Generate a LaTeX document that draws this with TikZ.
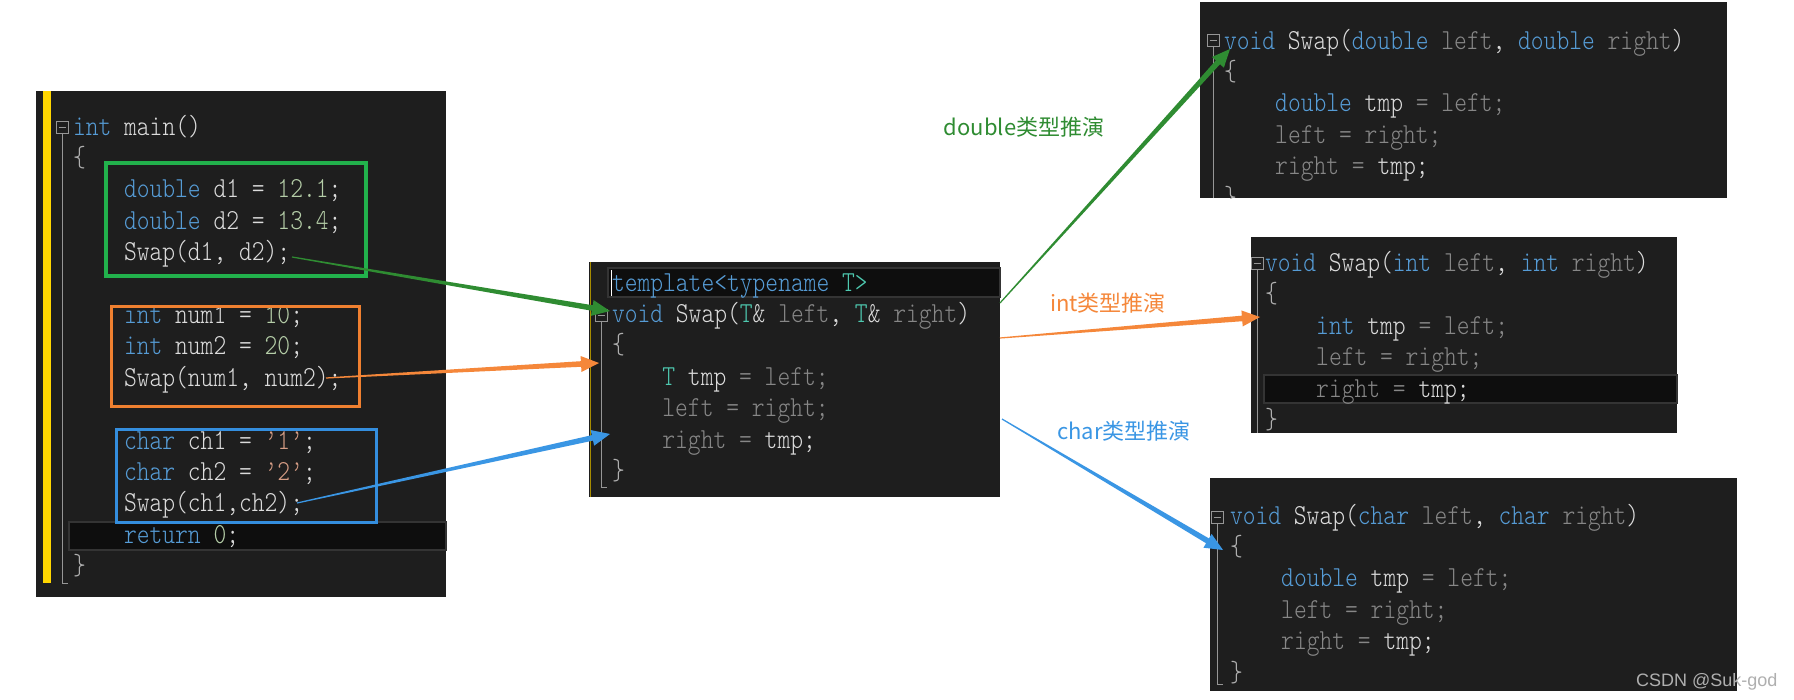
\documentclass[tikz,border=0pt]{standalone}
\usepackage{fontspec}
\usetikzlibrary{calc}
\newfontfamily\cjkfont{Noto Sans CJK SC}
\newfontfamily\wmfontfam{Liberation Sans}
\newfontfamily\codefam{lmmonolt10-regular.otf}[FakeStretch=0.84]
\definecolor{bgc}{RGB}{30,30,30}
\definecolor{kwc}{RGB}{86,156,214}
\definecolor{txc}{RGB}{220,220,220}
\definecolor{prc}{RGB}{135,135,135}
\definecolor{nmc}{RGB}{181,206,168}
\definecolor{stc}{RGB}{214,157,133}
\definecolor{tyc}{RGB}{78,201,176}
\definecolor{brc}{RGB}{175,175,175}
\definecolor{hlc}{RGB}{14,14,14}
\definecolor{hlb}{RGB}{52,52,52}
\definecolor{fdc}{RGB}{150,150,150}
\definecolor{ylc}{RGB}{255,214,0}
\definecolor{gbox}{RGB}{34,177,76}
\definecolor{obox}{RGB}{240,128,48}
\definecolor{bbox}{RGB}{52,142,222}
\definecolor{garr}{RGB}{47,140,50}
\definecolor{oarr}{RGB}{245,135,58}
\definecolor{barr}{RGB}{58,150,228}
\definecolor{wmc}{RGB}{175,175,175}
\newcommand\ckw[1]{\textcolor{kwc}{#1}}
\newcommand\cpr[1]{\textcolor{prc}{#1}}
\newcommand\cnm[1]{\textcolor{nmc}{#1}}
\newcommand\cst[1]{\textcolor{stc}{#1}}
\newcommand\cty[1]{\textcolor{tyc}{#1}}
\newcommand\cbr[1]{\textcolor{brc}{#1}}
\newcommand\foldbox[2]{%
  \draw[fold, fill=bgc] (#1-6,#2-6) rectangle (#1+6,#2+6);
  \draw[fold] (#1-3.5,#2) -- (#1+3.5,#2);}
\newcommand\taper[3]{%
  \coordinate (tb) at ($(#2)!18pt!(#1)$);
  \fill[#3] ($(#1)!0.6pt!90:(#2)$) -- ($(tb)!2.8pt!-90:(#1)$) -- ($(tb)!8pt!-90:(#1)$) -- (#2)
    -- ($(tb)!8pt!90:(#1)$) -- ($(tb)!2.8pt!90:(#1)$) -- ($(#1)!0.6pt!-90:(#2)$) -- cycle;}
\tikzset{
  code/.style={font=\codefam\fontsize{29}{29}\selectfont, text=txc, anchor=base west, inner sep=0pt, outer sep=0pt},
  panel/.style={fill=bgc, draw=none, anchor=north west, inner sep=0pt, outer sep=0pt},
  fold/.style={draw=fdc, line width=1pt},
  hl/.style={draw=hlb, fill=hlc, line width=1.5pt},
  lbl/.style={font=\cjkfont\fontsize{22}{22}\selectfont, inner sep=0pt},
}
\begin{document}
\begin{tikzpicture}[x=1pt, y=-1pt]
\fill[white] (0,0) rectangle (1794,699);
\useasboundingbox (0,0) rectangle (1794,699);

% ---------- panels ----------
\node[panel, minimum width=410pt, minimum height=506pt] (p1) at (36,91) {};
\node[panel, minimum width=411pt, minimum height=235pt] (p2) at (589,262) {};
\node[panel, minimum width=527pt, minimum height=196pt] (pa) at (1200,2) {};
\node[panel, minimum width=426pt, minimum height=196pt] (pb) at (1251,237) {};
\node[panel, minimum width=527pt, minimum height=213pt] (pc) at (1210,478) {};

% ---------- panel 1 : main ----------
\fill[ylc] (43,91) rectangle (51,583);
\draw[hl] (69,522) rectangle (446,550);
\draw[fold] (62,133) -- (62,583) -- (68,583);
\foldbox{62}{127}
\node[code] (m0) at (73,135) {\ckw{int} main()};
\node[code] (m1) at (73,166.4) {\cbr{\{}};
\node[code] (m2) at (124,197.8) {\ckw{double} d1 = \cnm{12.1};};
\node[code] (m3) at (124,229.2) {\ckw{double} d2 = \cnm{13.4};};
\node[code] (m4) at (124,260.6) {Swap(d1, d2);};
\node[code] (m6) at (124,323.4) {\ckw{int} num1 = \cnm{10};};
\node[code] (m7) at (124,354.8) {\ckw{int} num2 = \cnm{20};};
\node[code] (m8) at (124,386.2) {Swap(num1, num2);};
\node[code] (m10) at (124,449) {\ckw{char} ch1 = \cst{’1’};};
\node[code] (m11) at (124,480.4) {\ckw{char} ch2 = \cst{’2’};};
\node[code] (m12) at (124,511.8) {Swap(ch1,ch2);};
\node[code] (m13) at (124,543.2) {\ckw{return} \cnm{0};};
\node[code] (m14) at (73,574.6) {\cbr{\}}};
\draw[gbox, line width=3.5pt] (106,163) rectangle (366,276);
\draw[obox, line width=3pt] (111,306) rectangle (359,406);
\draw[bbox, line width=3pt] (116,429) rectangle (376,522);

% ---------- panel 2 : template ----------
\draw[ylc!65!black, line width=1pt] (590,262) -- (590,497);
\draw[hl] (608,268) rectangle (1000,297);
\draw[white, line width=1pt] (611,270) -- (611,296);
\draw[fold] (601,321.5) -- (601,487) -- (607,487);
\foldbox{601}{315.5}
\node[code] (t0) at (612,291) {\ckw{template<typename} \cty{T>}};
\node[code] (t1) at (612,322.4) {\ckw{void} Swap(\cty{T}\& \cpr{left}, \cty{T}\& \cpr{right})};
\node[code] (t2) at (612,353.8) {\cbr{\{}};
\node[code] (t3) at (662.4,385.2) {\cty{T} tmp \cpr{= left;}};
\node[code] (t4) at (662.4,416.6) {\cpr{left = right;}};
\node[code] (t5) at (662.4,448) {\cpr{right =} tmp;};
\node[code] (t6) at (612,479.4) {\cbr{\}}};

% ---------- panel A : double ----------
\begin{scope}
\clip (1200,2) rectangle (1727,198);
\draw[fold] (1213,46) -- (1213,198);
\foldbox{1213}{40}
\node[code] (a0) at (1224,49) {\ckw{void} Swap(\ckw{double} \cpr{left}, \ckw{double} \cpr{right})};
\node[code] (a1) at (1224,80.4) {\cbr{\{}};
\node[code] (a2) at (1275.2,111.8) {\ckw{double} tmp \cpr{= left;}};
\node[code] (a3) at (1275.2,143.2) {\cpr{left = right;}};
\node[code] (a4) at (1275.2,174.6) {\cpr{right =} tmp;};
\node[code] (a5) at (1224,206) {\cbr{\}}};
\end{scope}

% ---------- panel B : int ----------
\draw[hl] (1264,375) rectangle (1677,403);
\draw[fold] (1257,268.5) -- (1257,433);
\foldbox{1257}{263}
\node[code] (b0) at (1265,271.5) {\ckw{void} Swap(\ckw{int} \cpr{left}, \ckw{int} \cpr{right})};
\node[code] (b1) at (1265,302.9) {\cbr{\{}};
\node[code] (b2) at (1316.2,334.3) {\ckw{int} tmp \cpr{= left;}};
\node[code] (b3) at (1316.2,365.7) {\cpr{left = right;}};
\node[code] (b4) at (1316.2,397.1) {\cpr{right =} tmp;};
\node[code] (b5) at (1265,428.5) {\cbr{\}}};

% ---------- panel C : char ----------
\draw[fold] (1217,523) -- (1217,684) -- (1223,684);
\foldbox{1217}{517}
\node[code] (c0) at (1230,524) {\ckw{void} Swap(\ckw{char} \cpr{left}, \ckw{char} \cpr{right})};
\node[code] (c1) at (1230,555.4) {\cbr{\{}};
\node[code] (c2) at (1281.2,586.8) {\ckw{double} tmp \cpr{= left;}};
\node[code] (c3) at (1281.2,618.2) {\cpr{left = right;}};
\node[code] (c4) at (1281.2,649.6) {\cpr{right =} tmp;};
\node[code] (c5) at (1230,681) {\cbr{\}}};

% ---------- arrows ----------
\coordinate (g1s) at (292,257);  \coordinate (g1e) at (610,311);
\coordinate (o1s) at (326,378);  \coordinate (o1e) at (599,363);
\coordinate (b1s) at (297,503);  \coordinate (b1e) at (610,434);
\coordinate (g2s) at (1000,303); \coordinate (g2e) at (1230,49);
\coordinate (o2s) at (1000,338); \coordinate (o2e) at (1260,317);
\coordinate (b2s) at (1002,419); \coordinate (b2e) at (1223,550);
\taper{g1s}{g1e}{garr}
\taper{o1s}{o1e}{oarr}
\taper{b1s}{b1e}{barr}
\taper{g2s}{g2e}{garr}
\taper{o2s}{o2e}{oarr}
\taper{b2s}{b2e}{barr}

% ---------- labels ----------
\node[lbl, text=garr] (ld) at (1024,127) {double类型推演};
\node[lbl, text=oarr] (li) at (1108,303) {int类型推演};
\node[lbl, text=barr] (lc) at (1124,431) {char类型推演};

% ---------- watermark ----------
\node[font=\wmfontfam\fontsize{18}{18}\selectfont, text=wmc, anchor=base west, inner sep=0pt] (wm) at (1636,686) {CSDN @Suk-god};
\end{tikzpicture}
\end{document}
